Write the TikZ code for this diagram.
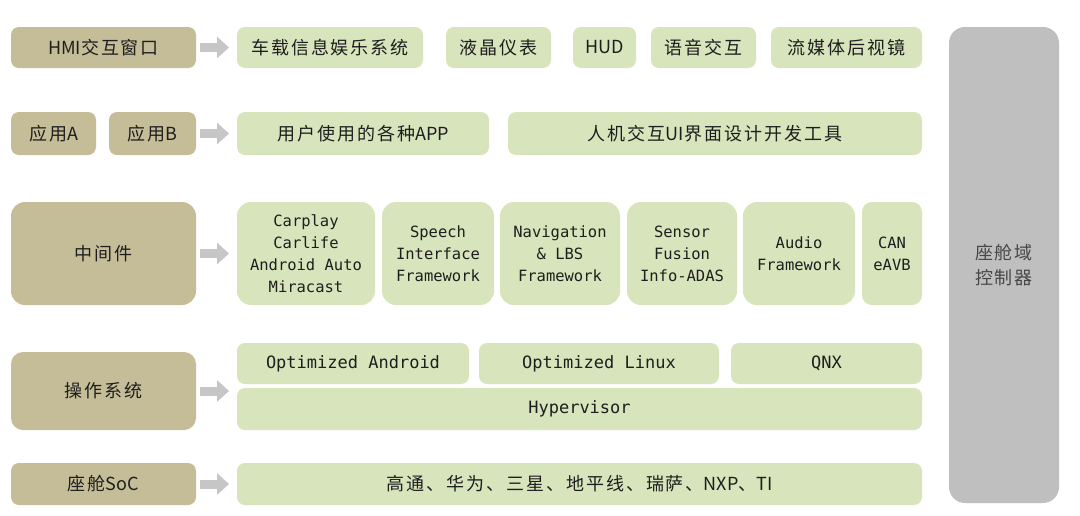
\documentclass[tikz,border=0pt]{standalone}
\usepackage{fontspec}
\setmainfont{DejaVu Sans Mono}
\newfontfamily\cjk[LetterSpace=11]{Noto Sans CJK SC}
\newfontfamily\cjklat{Noto Sans CJK SC}
\newcommand{\lat}[1]{{\cjklat #1}}
\usetikzlibrary{arrows.meta}
\definecolor{ctan}{HTML}{C4BD97}
\definecolor{cgreen}{HTML}{D8E4BC}
\definecolor{cgray}{HTML}{BFBFBF}
\definecolor{carrow}{HTML}{C6C6C6}
\definecolor{ctext}{HTML}{1E1E1E}
\tikzset{
 base/.style={rounded corners=8pt, inner sep=0pt, outer sep=0pt, align=center, text=ctext},
 layer/.style={base, fill=ctan, font=\fontsize{18}{20}\selectfont\cjk},
 item/.style={base, fill=cgreen, font=\fontsize{18}{20}\selectfont\cjk},
 mw/.style={base, fill=cgreen, rounded corners=14pt, font=\fontsize{15.5}{22}\selectfont},
 osbox/.style={base, fill=cgreen, font=\fontsize{17}{20}\selectfont},
 fat/.style={draw=carrow, line width=9pt, -{Triangle[width=21pt,length=12pt]}, shorten <=4pt, shorten >=8pt},
}

\begin{document}
\begin{tikzpicture}[x=1pt, y=-1pt]
 \fill[white] (0,0) rectangle (1080,515);
 \useasboundingbox (0,0) rectangle (1080,515);
 % HMI row
 \node[layer, minimum width=185, minimum height=41] (hmi) at (103.5,47.5) {\lat{HMI}交互窗口};
 \node[item, minimum width=186, minimum height=41] (ivi) at (330,47.5) {车载信息娱乐系统};
 \node[item, minimum width=105, minimum height=41] (lcd) at (498.5,47.5) {液晶仪表};
 \node[item, minimum width=63, minimum height=41] (hud) at (604.5,47.5) {\lat{HUD}};
 \node[item, minimum width=105, minimum height=41] (voice) at (703.5,47.5) {语音交互};
 \node[item, minimum width=151, minimum height=41] (mirror) at (846.5,47.5) {流媒体后视镜};
 % application row
 \node[layer, minimum width=85, minimum height=43] (appa) at (53.5,133.5) {应用\lat{A}};
 \node[layer, minimum width=87, minimum height=43] (appb) at (152.5,133.5) {应用\lat{B}};
 \node[item, minimum width=252, minimum height=43] (apps) at (363,133.5) {用户使用的各种\lat{APP}};
 \node[item, minimum width=414, minimum height=43] (uitool) at (715,133.5) {人机交互\lat{UI}界面设计开发工具};
 % middleware row
 \node[layer, rounded corners=14pt, minimum width=185, minimum height=103] (mid) at (103.5,253.5) {中间件};
 \node[mw, minimum width=138, minimum height=103] (carplay) at (306,253.5) {Carplay\\Carlife\\Android Auto\\Miracast};
 \node[mw, minimum width=112, minimum height=103] (speech) at (438,253.5) {Speech\\Interface\\Framework};
 \node[mw, minimum width=120, minimum height=103] (nav) at (560,253.5) {Navigation\\\& LBS\\Framework};
 \node[mw, minimum width=110, minimum height=103] (sensor) at (682,253.5) {Sensor\\Fusion\\Info-ADAS};
 \node[mw, minimum width=112, minimum height=103] (audio) at (799,253.5) {Audio\\Framework};
 \node[mw, rounded corners=10pt, minimum width=60, minimum height=103] (can) at (892,253.5) {CAN\\eAVB};
 % OS row
 \node[layer, rounded corners=12pt, minimum width=185, minimum height=78] (os) at (103.5,391) {操作系统};
 \node[osbox, minimum width=232, minimum height=41] (android) at (353,363.5) {Optimized Android};
 \node[osbox, minimum width=240, minimum height=41] (linux) at (599,363.5) {Optimized Linux};
 \node[osbox, minimum width=191, minimum height=41] (qnx) at (826.5,363.5) {QNX};
 \node[osbox, minimum width=685, minimum height=42] (hyp) at (579.5,409) {Hypervisor};
 % SoC row
 \node[layer, minimum width=185, minimum height=42] (soc) at (103.5,484) {座舱\lat{SoC}};
 \node[item, minimum width=685, minimum height=42] (vendors) at (579.5,484) {高通、华为、三星、地平线、瑞萨、\lat{NXP}、\lat{TI}};
 % controller
 \node[base, fill=cgray, rounded corners=16pt, text=black!72, minimum width=110, minimum height=476,
   font=\fontsize{18}{25}\selectfont\cjk] (ctrl) at (1004,265) {座舱域\\控制器};
 % arrows
 \draw[fat] (hmi.east) -- (ivi.west);
 \draw[fat] (appb.east) -- (apps.west);
 \draw[fat] (mid.east) -- (carplay.west);
 \draw[fat] (os.east) -- (os.east -| android.west);
 \draw[fat] (soc.east) -- (vendors.west);
\end{tikzpicture}
\end{document}
